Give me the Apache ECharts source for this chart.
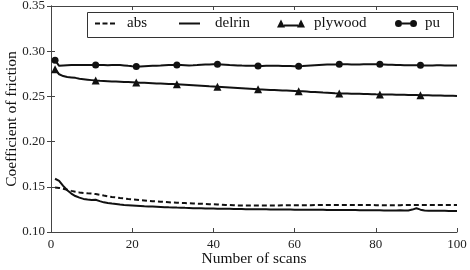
<!DOCTYPE html>
<html><head><meta charset="utf-8">
<script src="https://cdn.jsdelivr.net/npm/echarts@6/dist/echarts.min.js"></script>
<style>html,body{margin:0;padding:0;background:#fff}#c{width:470px;height:270px}</style>
</head><body><div id="c"></div>
<script>
const scans = Array.from({length: 100}, (_, i) => i + 1);
const absVals = [0.1492,0.1488,0.1478,0.1468,0.1455,0.1445,0.1438,0.1432,0.1428,0.1425,
0.142,0.1412,0.1403,0.1395,0.1388,0.1382,0.1376,0.1371,0.1366,0.1362,
0.1357,0.1352,0.1348,0.1344,0.1341,0.1338,0.1335,0.1332,0.1329,0.1326,
0.1324,0.1322,0.132,0.1318,0.1316,0.1314,0.1312,0.131,0.1308,0.1306,
0.1304,0.1302,0.13,0.1298,0.1296,0.1294,0.1293,0.1292,0.1292,0.1292,
0.1292,0.1292,0.1293,0.1293,0.1294,0.1294,0.1295,0.1295,0.1296,0.1296,
0.1296,0.1297,0.1297,0.1297,0.1298,0.1298,0.1298,0.1299,0.1299,0.1299,
0.1299,0.13,0.13,0.13,0.13,0.1299,0.1299,0.1298,0.1298,0.1297,
0.1297,0.1296,0.1296,0.1296,0.1297,0.1297,0.1298,0.1298,0.1298,0.1298,
0.1299,0.1299,0.13,0.13,0.13,0.13,0.13,0.13,0.13,0.13];
const delrinVals = [0.1589,0.1565,0.151,0.1462,0.1425,0.1398,0.138,0.1366,0.136,0.1355,
0.1357,0.1342,0.1328,0.132,0.1314,0.1309,0.1304,0.13,0.1297,0.1294,
0.1291,0.1288,0.1285,0.1283,0.1281,0.1279,0.1277,0.1275,0.1273,0.1272,
0.127,0.1269,0.1267,0.1266,0.1264,0.1263,0.1262,0.1261,0.126,0.1259,
0.1258,0.1257,0.1257,0.1256,0.1255,0.1254,0.1254,0.1253,0.1253,0.1252,
0.1252,0.1251,0.1251,0.125,0.125,0.1249,0.1249,0.1248,0.1248,0.1247,
0.1247,0.1246,0.1246,0.1246,0.1245,0.1245,0.1245,0.1244,0.1244,0.1244,
0.1243,0.1243,0.1242,0.1242,0.1242,0.1241,0.1241,0.1241,0.124,0.124,
0.124,0.1239,0.1239,0.1238,0.1238,0.124,0.1238,0.1237,0.1248,0.1262,
0.1247,0.1238,0.1236,0.1235,0.1235,0.1234,0.1234,0.1233,0.1233,0.1233];
const plywoodVals = [0.280,0.2745,0.2725,0.2715,0.271,0.2705,0.2695,0.269,0.2685,0.268,
0.2675,0.2672,0.267,0.2668,0.2666,0.2664,0.2662,0.266,0.2658,0.2656,
0.2654,0.2652,0.265,0.2648,0.2646,0.2644,0.2642,0.264,0.2638,0.2636,
0.2634,0.2632,0.263,0.2627,0.2624,0.2621,0.2618,0.2615,0.2612,0.261,
0.2608,0.2605,0.2602,0.2599,0.2596,0.2593,0.259,0.2587,0.2584,0.2581,
0.2578,0.2576,0.2574,0.2572,0.257,0.2568,0.2566,0.2564,0.2562,0.256,
0.2558,0.2556,0.2553,0.255,0.2548,0.2545,0.2542,0.254,0.2538,0.2535,
0.2533,0.2532,0.2531,0.253,0.2529,0.2528,0.2527,0.2526,0.2525,0.2523,
0.2522,0.2521,0.2521,0.252,0.2519,0.2518,0.2517,0.2516,0.2515,0.2515,
0.2514,0.2513,0.2512,0.2511,0.251,0.2509,0.2508,0.2507,0.2506,0.2505];
const puVals = [0.290,0.2838,0.2842,0.2845,0.2846,0.2847,0.2848,0.2848,0.2848,0.2848,
0.2848,0.2847,0.2846,0.2845,0.2846,0.2847,0.2846,0.2843,0.2838,0.2834,
0.2832,0.2832,0.2834,0.2836,0.2838,0.284,0.2842,0.2845,0.2847,0.2848,
0.2848,0.2847,0.2845,0.2843,0.2844,0.2846,0.2849,0.2852,0.2854,0.2855,
0.2855,0.2853,0.285,0.2847,0.2845,0.2843,0.2841,0.284,0.2839,0.2838,
0.2837,0.2837,0.2838,0.2839,0.2839,0.2838,0.2837,0.2836,0.2835,0.2834,
0.2833,0.2835,0.2838,0.2841,0.2844,0.2847,0.285,0.2852,0.2853,0.2854,
0.2855,0.2855,0.2855,0.2854,0.2854,0.2854,0.2855,0.2855,0.2856,0.2856,
0.2855,0.2853,0.2851,0.2849,0.2847,0.2846,0.2845,0.2845,0.2844,0.2844,
0.2844,0.2843,0.2843,0.2843,0.2844,0.2844,0.2843,0.2843,0.2843,0.2843];
const xTicks = [0, 20, 40, 60, 80, 100];
const yTicks = [0.10, 0.15, 0.20, 0.25, 0.30, 0.35];
const seriesNames = ['abs', 'delrin', 'plywood', 'pu'];

const FONT = 'Liberation Serif';
const INK = '#111';
function toData(vals, marked) {
  return vals.map((v, i) => (marked && i % 10 === 0) ? [scans[i], v] : {value: [scans[i], v], symbol: 'none'});
}
function mkSeries(name, vals, symbol, size, dashed) {
  return {
    name, type: 'line', data: toData(vals, symbol !== 'none'),
    symbol: symbol, symbolSize: size, showSymbol: true, showAllSymbol: true,
    lineStyle: {color: INK, width: 2, type: dashed ? [5, 3] : 'solid'},
    itemStyle: {color: INK}, color: INK, animation: false, z: 3
  };
}
const legendIcons = {
  abs: 'path://M0,0h5v2h-5zM7.5,0h5v2h-5zM15,0h5v2h-5z',
  delrin: 'path://M0,0h21v2h-21z',
  plywood: 'path://M0,8L4,0L8,8zM20,8L24,0L28,8zM7,5h14v2h-14z',
  pu: 'path://M0,3.5a3.5,3.5 0 1,1 7,0a3.5,3.5 0 1,1 -7,0zM15,3.5a3.5,3.5 0 1,1 7,0a3.5,3.5 0 1,1 -7,0zM7,2.5h8v2h-8z'
};
const legendLayout = {
  abs: {left: 95, w: 20, h: 2, pad: 7},
  delrin: {left: 179, w: 21, h: 2, pad: 10},
  plywood: {left: 277, w: 28, h: 8, pad: 4},
  pu: {left: 395, w: 22, h: 7, pad: 3}
};
const legends = seriesNames.map(n => ({
  left: legendLayout[n].left, top: 16, padding: 0,
  data: [{name: n, icon: legendIcons[n]}],
  itemWidth: legendLayout[n].w, itemHeight: legendLayout[n].h,
  selectedMode: false,
  itemStyle: {color: INK, borderWidth: 0},
  textStyle: {fontFamily: FONT, fontSize: 15, color: '#111', padding: [0, 0, 0, legendLayout[n].pad]}
}));
const axisBase = {
  axisLine: {show: true, lineStyle: {color: '#444', width: 1}},
  axisTick: {show: true, inside: true, length: 4, lineStyle: {color: '#444'}},
  splitLine: {show: false}
};
const chart = echarts.init(document.getElementById('c'));
chart.setOption({
  animation: false,
  backgroundColor: '#fff',
  textStyle: {fontFamily: FONT},
  grid: {left: 51, right: 13, top: 6, bottom: 38, containLabel: false, outerBoundsMode: 'none'},
  legend: legends,
  graphic: [{
    type: 'rect', left: 85, top: 10, z: 10, silent: true,
    shape: {width: 366, height: 25},
    style: {fill: 'none', stroke: '#333', lineWidth: 1}
  }],
  xAxis: [
    Object.assign({}, axisBase, {
      type: 'value', min: xTicks[0], max: xTicks[xTicks.length - 1], interval: 20,
      name: 'Number of scans', nameLocation: 'middle', nameGap: 19, nameMoveOverlap: false,
      nameTextStyle: {fontFamily: FONT, fontSize: 15.5, color: '#111'},
      axisLabel: {fontFamily: FONT, fontSize: 13, color: '#222', margin: 6}
    }),
    Object.assign({}, axisBase, {
      type: 'value', position: 'top', min: 0, max: 100, interval: 20,
      axisLabel: {show: false}
    })
  ],
  yAxis: [
    Object.assign({}, axisBase, {
      type: 'value', min: yTicks[0], max: yTicks[yTicks.length - 1], interval: 0.05,
      name: 'Coefficient of friction', nameLocation: 'middle', nameGap: 31, nameMoveOverlap: false,
      nameTextStyle: {fontFamily: FONT, fontSize: 15.5, color: '#111'},
      axisLabel: {fontFamily: FONT, fontSize: 13, color: '#222', margin: 6, formatter: v => v.toFixed(2)}
    }),
    Object.assign({}, axisBase, {
      type: 'value', position: 'right', min: 0.10, max: 0.35, interval: 0.05,
      axisLabel: {show: false}
    })
  ],
  series: [
    mkSeries('abs', absVals, 'none', 0, true),
    mkSeries('delrin', delrinVals, 'none', 0, false),
    mkSeries('plywood', plywoodVals, 'triangle', 8, false),
    mkSeries('pu', puVals, 'circle', 7, false)
  ]
});
</script></body></html>
